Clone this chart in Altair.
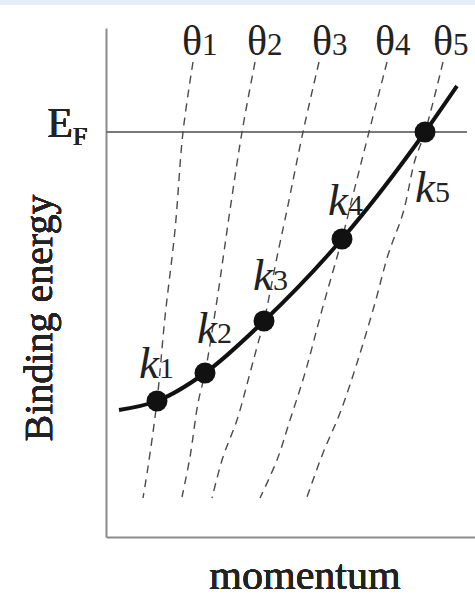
import altair as alt
import pandas as pd

# Band dispersion E(k) and the fixed-angle cuts theta_1..theta_5 (arbitrary units;
# binding energy measured downward from the Fermi level E_F = 0).
band_k = [0.13, 0.51, 0.99, 1.58, 2.36, 3.19, 3.51]
band_E = [2.78, 2.69, 2.41, 1.89, 1.07, 0.00, -0.46]

# intersections k1..k5 of the band with each angle cut
dot_names = ["k1", "k2", "k3", "k4", "k5"]
dot_k = [0.51, 0.99, 1.58, 2.36, 3.19]
dot_E = [2.69, 2.41, 1.89, 1.07, 0.00]

# constant-angle curves in the (k, E) plane
theta_k = [
    [0.87, 0.77, 0.69, 0.59, 0.51, 0.42, 0.37],
    [1.49, 1.36, 1.24, 1.11, 0.99, 0.92, 0.84, 0.76],
    [2.13, 1.97, 1.81, 1.71, 1.58, 1.51, 1.44, 1.31, 1.17, 1.06],
    [2.81, 2.63, 2.47, 2.36, 2.16, 1.99, 1.84, 1.71, 1.54],
    [3.37, 3.19, 3.09, 2.97, 2.82, 2.69, 2.51, 2.34, 2.17, 2.01],
]
theta_E = [
    [-0.70, 0.00, 0.98, 1.85, 2.69, 3.35, 3.66],
    [-0.70, 0.00, 0.78, 1.68, 2.41, 2.71, 3.25, 3.65],
    [-0.70, 0.00, 0.78, 1.25, 1.89, 2.15, 2.41, 2.88, 3.25, 3.66],
    [-0.70, 0.00, 0.63, 1.07, 1.78, 2.41, 2.88, 3.28, 3.66],
    [-0.70, 0.00, 0.28, 0.81, 1.23, 1.71, 2.31, 2.81, 3.21, 3.65],
]
theta_names = ["θ1", "θ2", "θ3", "θ4", "θ5"]

# label anchors (boundary between letter and index)
theta_label_k = [0.96, 1.61, 2.26, 2.89, 3.47]
theta_label_E = [-0.77] * 5
k_label_k = [0.53, 1.11, 1.67, 2.42, 3.29]
k_label_E = [2.46, 2.11, 1.58, 0.83, 0.70]

E_FERMI = 0.0
K_DOMAIN = [0, 3.69]
E_DOMAIN = [-1.04, 4.05]

SERIF = "Liberation Serif, Times New Roman, serif"
INK = "#222222"

band = pd.DataFrame({"k": band_k, "E": band_E})
dots = pd.DataFrame({"name": dot_names, "k": dot_k, "E": dot_E})
cuts = pd.DataFrame(
    [
        {"cut": name, "order": i, "k": kk, "E": ee}
        for name, ks, es in zip(theta_names, theta_k, theta_E)
        for i, (kk, ee) in enumerate(zip(ks, es))
    ]
)
theta_labels = pd.DataFrame(
    {
        "letter": [n[0] for n in theta_names],
        "index": [n[1:] for n in theta_names],
        "k": theta_label_k,
        "E": theta_label_E,
    }
)
k_labels = pd.DataFrame(
    {
        "letter": [n[0] for n in dot_names],
        "index": [n[1:] for n in dot_names],
        "k": k_label_k,
        "E": k_label_E,
    }
)

axis_style = dict(
    labels=False, ticks=False, title=None, grid=False,
    domainColor="#8c8c8c", domainWidth=2,
)
X = alt.X("k:Q", scale=alt.Scale(domain=K_DOMAIN, nice=False, zero=False),
          axis=alt.Axis(**axis_style))
Y = alt.Y("E:Q", scale=alt.Scale(domain=E_DOMAIN, nice=False, zero=False, reverse=True),
          axis=alt.Axis(**axis_style))

top_band = alt.Chart(band).mark_rect(color="#e2eff7").encode(
    x=alt.value(-106), x2=alt.value(369), y=alt.value(-28), y2=alt.value(-23)
)

fermi = alt.Chart(band).mark_rule(color="#7a7a7a", strokeWidth=1.5).encode(
    y=alt.datum(E_FERMI, type="quantitative"), x=alt.value(0), x2=alt.value(361)
)

cut_lines = alt.Chart(cuts).mark_line(
    color="#4a4a4a", strokeWidth=1.4, strokeDash=[8, 6], interpolate="catmull-rom"
).encode(x=X, y=Y, detail="cut:N", order="order:Q")

band_line = alt.Chart(band).mark_line(
    color="#111111", strokeWidth=4, interpolate="monotone"
).encode(x=X, y=Y)

dot_marks = alt.Chart(dots).mark_circle(size=440, color="#111111", opacity=1).encode(
    x=X, y=Y
)

theta_letter = alt.Chart(theta_labels).mark_text(
    font=SERIF, fontSize=42, color=INK, align="right", baseline="alphabetic"
).encode(x=X, y=Y, text="letter:N")
theta_index = alt.Chart(theta_labels).mark_text(
    font=SERIF, fontSize=31, color=INK, align="left", baseline="alphabetic"
).encode(x=X, y=Y, text="index:N")

k_letter = alt.Chart(k_labels).mark_text(
    font=SERIF, fontSize=45, fontStyle="italic", color=INK, align="right",
    baseline="alphabetic"
).encode(x=X, y=Y, text="letter:N")
k_index = alt.Chart(k_labels).mark_text(
    font=SERIF, fontSize=30, color=INK, align="left", baseline="alphabetic"
).encode(x=X, y=Y, text="index:N")

ef_E = alt.Chart(band).mark_text(
    font=SERIF, fontSize=42, color=INK, align="right", baseline="alphabetic", dy=5
).encode(x=alt.datum(-0.33), y=alt.datum(E_FERMI), text=alt.value("E"))
ef_F = alt.Chart(band).mark_text(
    font=SERIF, fontSize=26, color=INK, align="left", baseline="alphabetic", dy=13
).encode(x=alt.datum(-0.33), y=alt.datum(E_FERMI), text=alt.value("F"))

y_title = alt.Chart(band).mark_text(
    font=SERIF, fontSize=40, color=INK, angle=270, align="center", baseline="alphabetic"
).encode(x=alt.value(-54), y=alt.value(290), text=alt.value("Binding energy"))
x_title = alt.Chart(band).mark_text(
    font=SERIF, fontSize=42, color=INK, align="center", baseline="alphabetic"
).encode(x=alt.value(199), y=alt.value(561), text=alt.value("momentum"))

chart = alt.layer(
    top_band, fermi, cut_lines, band_line, dot_marks,
    theta_letter, theta_index, k_letter, k_index, ef_E, ef_F, y_title, x_title,
).properties(
    width=369, height=509,
    padding={"left": 106, "top": 28, "right": 0, "bottom": 63},
    autosize=alt.AutoSizeParams(type="none"),
    background="white",
).configure_view(stroke=None)

chart.save("out.html", embed_options={"renderer": "svg", "actions": False})
